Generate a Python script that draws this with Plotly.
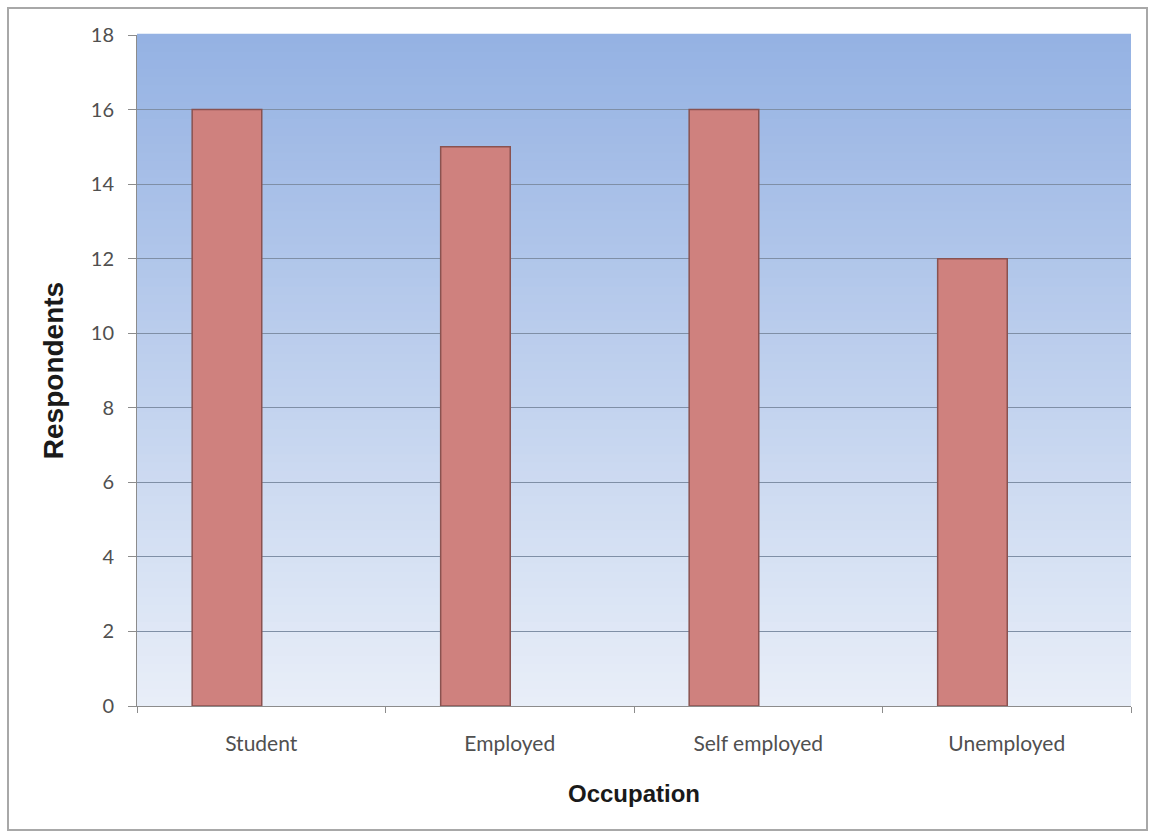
import plotly.graph_objects as go

categories = ["Student", "Employed", "Self employed", "Unemployed"]
respondents = [16, 15, 16, 12]
y_ticks = [0, 2, 4, 6, 8, 10, 12, 14, 16, 18]

fig = go.Figure()
fig.add_trace(go.Bar(
    x=categories, y=respondents,
    marker=dict(color="#cf817e", line=dict(color="#8a5250", width=1.5)),
    width=0.28, offset=-0.278,
))

# gradient plot background (blue at top to pale at bottom)
shapes = []
n = 80
top = (149, 178, 227)
bot = (232, 238, 248)
for i in range(n):
    t = i / (n - 1)
    c = tuple(round(bot[k] + (top[k] - bot[k]) * t) for k in range(3))
    shapes.append(dict(type="rect", xref="x domain", yref="y domain",
                       x0=0, x1=1, y0=i / n, y1=(i + 1) / n + 0.002,
                       fillcolor="rgb(%d,%d,%d)" % c, line=dict(width=0), layer="below"))
# outer chart border
shapes.append(dict(type="rect", xref="paper", yref="paper",
                   x0=(8 - 137) / 994, x1=(1147 - 137) / 994,
                   y0=-(830 - 706) / 671, y1=1 + (35 - 8) / 671,
                   line=dict(color="#a8a8a8", width=2), fillcolor="rgba(0,0,0,0)", layer="below"))

tick_font = dict(family="Lato, Open Sans, sans-serif", size=21, color="#505050")
ytick_font = dict(family="Lato, Open Sans, sans-serif", size=20, color="#505050")
title_family = "Liberation Sans Narrow, Arial Narrow, Liberation Sans, sans-serif"

fig.update_layout(
    width=1151, height=838,
    margin=dict(l=137, r=20, t=35, b=132),
    paper_bgcolor="white", plot_bgcolor="rgba(0,0,0,0)",
    shapes=shapes, showlegend=False,
    font=dict(family="Lato, Open Sans, sans-serif", color="#404040"),
)
fig.update_xaxes(
    tickson="boundaries", ticks="outside", ticklen=6, tickcolor="#8c8c8c",
    showline=True, linecolor="#8c8c8c", linewidth=1,
    showgrid=False, tickfont=tick_font, ticklabelstandoff=19,
    title=dict(text="<b>Occupation</b>", font=dict(size=24, color="#1a1a1a", family=title_family),
               standoff=30),
)
fig.update_yaxes(
    range=[0, 18], tickvals=y_ticks, ticks="outside", ticklen=8, tickcolor="#8c8c8c",
    showline=True, linecolor="#8c8c8c", linewidth=1,
    showgrid=True, gridcolor="#7f8fa6", gridwidth=1, zeroline=False,
    tickfont=ytick_font, ticklabelstandoff=10,
    title=dict(text="<b>Respondents</b>", font=dict(size=28, color="#1a1a1a", family=title_family),
               standoff=18),
)

fig.write_html("out.html")
